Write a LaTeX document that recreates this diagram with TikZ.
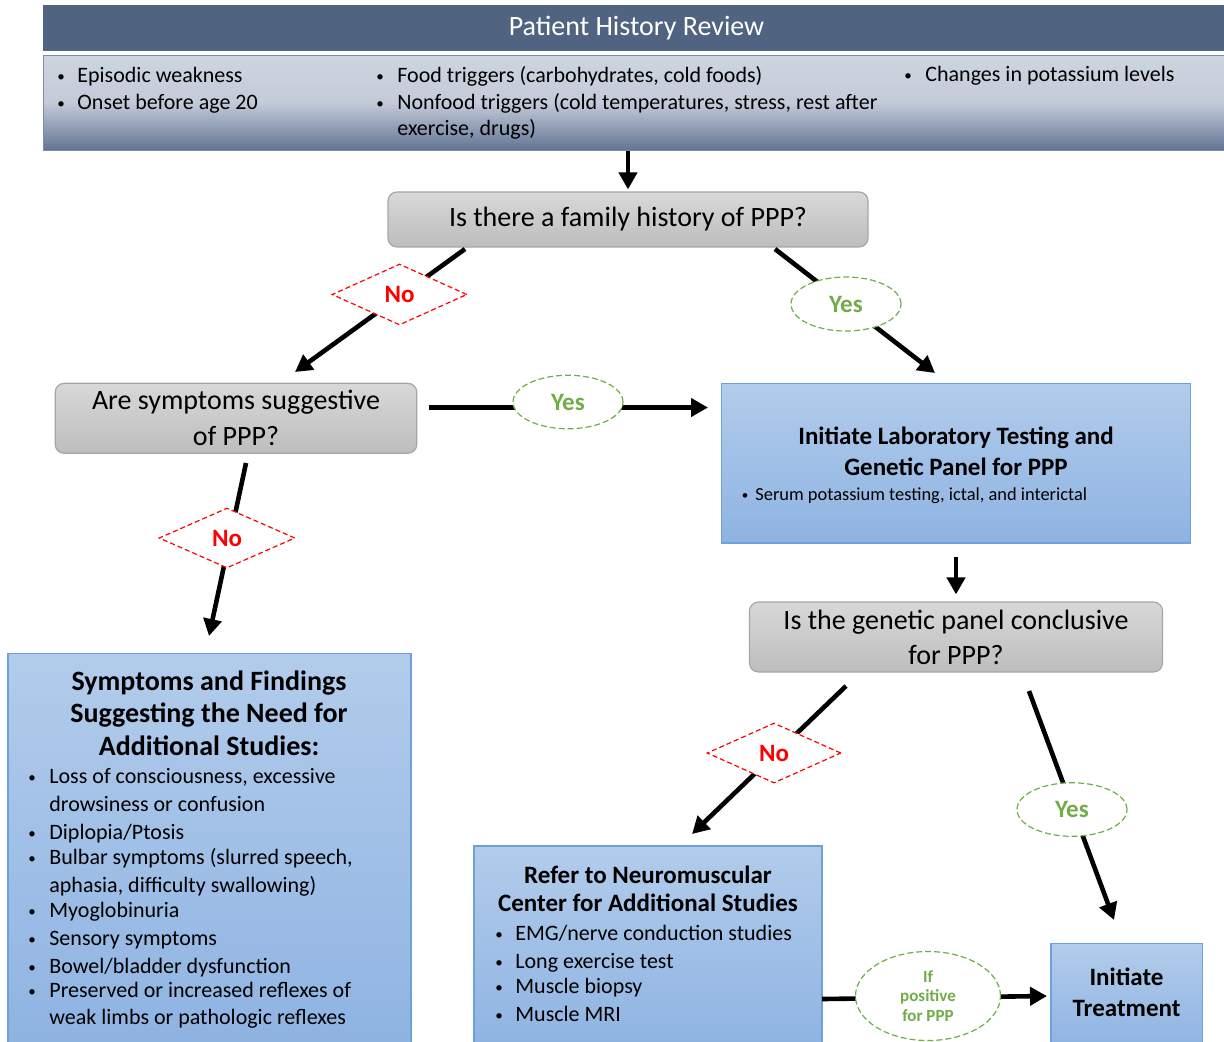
\documentclass[tikz,border=0pt]{standalone}
\usepackage{fontspec}
\setmainfont{Carlito}
\usetikzlibrary{arrows.meta,shapes.geometric}

\definecolor{hdrblue}{HTML}{506380}
\definecolor{bandtop}{HTML}{CDD5E0}
\definecolor{bandmid}{HTML}{C3CBD9}
\definecolor{bandbot}{HTML}{627494}
\definecolor{bandline}{HTML}{7C8CA8}
\definecolor{qtop}{HTML}{D8D8D8}
\definecolor{qbot}{HTML}{BDBDBD}
\definecolor{qline}{HTML}{A6A6A6}
\definecolor{btop}{HTML}{B2CCEB}
\definecolor{bbot}{HTML}{8EB3E2}
\definecolor{bline}{HTML}{6FA1D8}
\definecolor{yesgreen}{HTML}{70AD47}

\newcommand{\fhdr}{\fontsize{14}{17}\selectfont}
\newcommand{\fitem}{\fontsize{11}{13}\selectfont}
\newcommand{\fdot}{\fontsize{7.5}{9}\selectfont}
\newcommand{\fques}{\fontsize{14}{17.5}\selectfont}
\newcommand{\fhead}{\bfseries\fontsize{12.5}{15}\selectfont}
\newcommand{\fbig}{\bfseries\fontsize{14}{16}\selectfont}
\newcommand{\fsmall}{\fontsize{9.2}{11}\selectfont}
\newcommand{\flab}{\bfseries\fontsize{12.5}{15}\selectfont}
\newcommand{\fpos}{\bfseries\fontsize{8.5}{9.6}\selectfont}

\tikzset{
  arr/.style={line width=2.3pt,-{Triangle[width=9pt,length=8.5pt]}},
  qbox/.style={draw=qline,line width=0.6pt,rounded corners=4.5pt,top color=qtop,bottom color=qbot},
  bbox/.style={draw=bline,line width=0.7pt,top color=btop,bottom color=bbot,inner sep=0pt},
  txt/.style={inner sep=0pt,anchor=base},
  ltxt/.style={inner sep=0pt,anchor=base west},
  nolab/.style={diamond,draw=red,line width=0.6pt,dash pattern=on 2.5pt off 1.5pt,fill=white,text=red,inner sep=0pt,font=\flab,minimum width=67.5pt,minimum height=30.5pt},
  yeslab/.style={ellipse,draw=yesgreen,line width=0.6pt,dash pattern=on 3pt off 1.5pt,fill=white,text=yesgreen,inner sep=0pt,font=\flab,minimum width=55pt,minimum height=26.75pt},
}

\begin{document}
\begin{tikzpicture}[x=0.5pt,y=-0.5pt]
  \useasboundingbox (0,0) rectangle (1224,1041);
  % history review
  \node[fill=hdrblue,inner sep=0pt,minimum width=593.5pt,minimum height=22.75pt,text=white,font=\fhdr] (hdr) at (636.5,27.75) {Patient History Review};
  \node[draw=bandline,line width=0.5pt,top color=bandtop,bottom color=bandbot,middle color=bandmid,inner sep=0pt,minimum width=593.5pt,minimum height=47.5pt] (band) at (636.5,102.5) {};
  \foreach \x/\y [count=\i] in {61/81,61/108,380/81,380/108,908/80} \node[txt,font=\fdot] (hb\i) at (\x,\y) {\textbullet};
  \node[ltxt,font=\fitem] (h1) at (77,82) {Episodic weakness};
  \node[ltxt,font=\fitem] (h2) at (77,109) {Onset before age 20};
  \node[ltxt,font=\fitem] (h3) at (397,82) {Food triggers (carbohydrates, cold foods)};
  \node[ltxt,font=\fitem] (h4) at (397,109) {Nonfood triggers (cold temperatures, stress, rest after};
  \node[ltxt,font=\fitem] (h5) at (397,135) {exercise, drugs)};
  \node[ltxt,font=\fitem] (h6) at (925,81) {Changes in potassium levels};

  % questions
  \node[qbox,minimum width=240pt,minimum height=27.5pt,font=\fques] (q1) at (628,219.5) {Is there a family history of PPP?};
  \node[qbox,minimum width=180.8pt,minimum height=35pt,align=center,font=\fontsize{14}{18}\selectfont] (q2) at (236,418.3) {Are symptoms suggestive\\of PPP?};
  \node[qbox,minimum width=206.5pt,minimum height=35pt,align=center,font=\fques] (q3) at (956,637) {Is the genetic panel conclusive\\for PPP?};

  % result boxes
  \node[bbox,minimum width=234.5pt,minimum height=79.75pt] (lab) at (956,463.25) {};
  \node[txt,font=\fhead] (lab1) at (956,444) {Initiate Laboratory Testing and};
  \node[txt,font=\fhead] (lab2) at (956,475) {Genetic Panel for PPP};
  \node[txt,font=\fontsize{6.5}{8}\selectfont] (labb) at (745,499.5) {\textbullet};
  \node[ltxt,font=\fsmall] (lab3) at (755,500) {Serum potassium testing, ictal, and interictal};

  \node[bbox,minimum width=201.5pt,minimum height=198.25pt] (sym) at (209.5,851.75) {};
  \foreach \y/\t [count=\i] in {690/Symptoms and Findings,722/Suggesting the Need for,755/Additional Studies:}
    \node[txt,font=\fbig] (sh\i) at (209,\y) {\t};
  \foreach \y [count=\i] in {783,839,864,917,945,973,997}
    \node[txt,font=\fdot] (sb\i) at (32,\y-1) {\textbullet};
  \foreach \y/\t [count=\i] in {783/{Loss of consciousness, excessive},811/{drowsiness or confusion},839/{Diplopia/Ptosis},864/{Bulbar symptoms (slurred speech,},892/{aphasia, difficulty swallowing)},917/{Myoglobinuria},945/{Sensory symptoms},973/{Bowel/bladder dysfunction},997/{Preserved or increased reflexes of},1024/{weak limbs or pathologic reflexes}}
    \node[ltxt,font=\fitem] (st\i) at (49,\y) {\t};

  \node[bbox,minimum width=174pt,minimum height=102pt] (refer) at (648,948) {};
  \node[txt,font=\fhead] (rh1) at (648,883) {Refer to Neuromuscular};
  \node[txt,font=\fhead] (rh2) at (648,911.5) {Center for Additional Studies};
  \foreach \y/\t [count=\i] in {940.5/{EMG/nerve conduction studies},968/{Long exercise test},993/{Muscle biopsy},1021.5/{Muscle MRI}} {
    \node[txt,font=\fdot] (rb\i) at (499,\y-1) {\textbullet};
    \node[ltxt,font=\fitem] (rt\i) at (515,\y) {\t};
  }

  \node[bbox,minimum width=75.75pt,minimum height=53.25pt] (treat) at (1126.75,996.75) {};
  \node[txt,font=\fhead] (tr1) at (1126.5,985) {Initiate};
  \node[txt,font=\fhead] (tr2) at (1126.5,1016) {Treatment};

  % connectors
  \draw[arr,shorten >=1pt] (band.south -| q1.north) -- (q1.north);
  \draw[arr,shorten <=6.5pt,shorten >=3.5pt] (lab.south) -- (q3.north);
  \coordinate (q1l) at (465,249);    \coordinate (q2in) at (295,372);
  \coordinate (q1r) at (775,249);    \coordinate (labin) at (935,373);
  \coordinate (q2r) at (429,407.5);  \coordinate (labl) at (708,407.5);
  \coordinate (q2b) at (246,463);    \coordinate (symin) at (209,636);
  \coordinate (q3l) at (846,686);    \coordinate (refin) at (692,834);
  \coordinate (q3r) at (1029,691);   \coordinate (trin) at (1114,920);
  \coordinate (refr) at (822,999);   \coordinate (trl) at (1047,996);
  \foreach \a/\b in {q1l/q2in,q1r/labin,q2r/labl,q2b/symin,q3l/refin,q3r/trin,refr/trl}
    \draw[arr] (\a) -- (\b);

  % labels
  \node[nolab] (no1) at (399.5,294.5) {No};
  \node[nolab,minimum width=68pt,minimum height=30pt] (no2) at (227,538) {No};
  \node[nolab,minimum width=67pt,minimum height=30pt] (no3) at (774,753) {No};
  \node[yeslab,minimum height=27pt] (yes1) at (846,304) {Yes};
  \node[yeslab] (yes2) at (568,402) {Yes};
  \node[yeslab] (yes3) at (1072,809.5) {Yes};
  \node[yeslab,minimum width=72.5pt,minimum height=44.5pt,align=center,font=\fpos] (pos) at (928,996) {If\\positive\\for PPP};
\end{tikzpicture}
\end{document}
